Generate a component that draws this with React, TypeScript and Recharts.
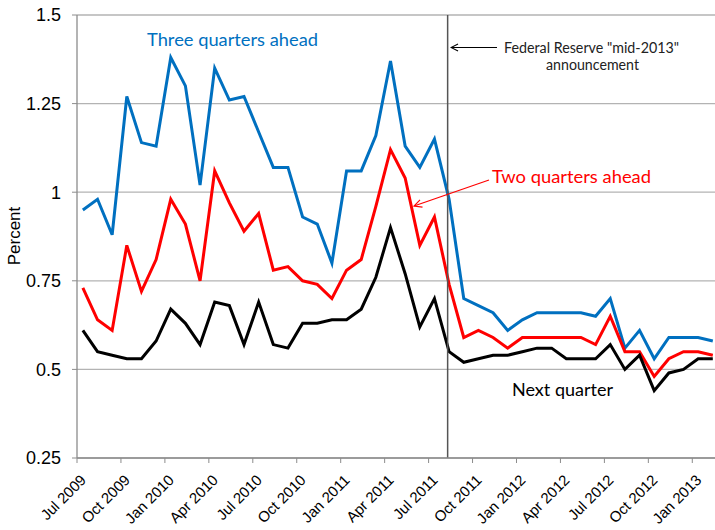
import { LineChart, Line, XAxis, YAxis, CartesianGrid, ReferenceLine } from "recharts";

// Quarter tick labels on the x axis (every third month)
const tickLabels = [
  "Jul 2009", "Oct 2009", "Jan 2010", "Apr 2010", "Jul 2010", "Oct 2010",
  "Jan 2011", "Apr 2011", "Jul 2011", "Oct 2011", "Jan 2012", "Apr 2012",
  "Jul 2012", "Oct 2012", "Jan 2013",
];

// Monthly survey values, Jul 2009 - Feb 2013 (percent)
const threeQuarters = [
  0.95, 0.98, 0.88, 1.27, 1.14, 1.13, 1.38, 1.3, 1.02, 1.35,
  1.26, 1.27, 1.17, 1.07, 1.07, 0.93, 0.91, 0.8, 1.06, 1.06,
  1.16, 1.37, 1.13, 1.07, 1.15, 0.98, 0.7, 0.68, 0.66, 0.61,
  0.64, 0.66, 0.66, 0.66, 0.66, 0.65, 0.7, 0.56, 0.61, 0.53,
  0.59, 0.59, 0.59, 0.58,
];
const twoQuarters = [
  0.73, 0.64, 0.61, 0.85, 0.72, 0.81, 0.98, 0.91, 0.75, 1.06,
  0.97, 0.89, 0.94, 0.78, 0.79, 0.75, 0.74, 0.7, 0.78, 0.81,
  0.96, 1.12, 1.04, 0.85, 0.93, 0.74, 0.59, 0.61, 0.59, 0.56,
  0.59, 0.59, 0.59, 0.59, 0.59, 0.57, 0.65, 0.55, 0.55, 0.48,
  0.53, 0.55, 0.55, 0.54,
];
const nextQuarter = [
  0.61, 0.55, 0.54, 0.53, 0.53, 0.58, 0.67, 0.63, 0.57, 0.69,
  0.68, 0.57, 0.69, 0.57, 0.56, 0.63, 0.63, 0.64, 0.64, 0.67,
  0.76, 0.9, 0.77, 0.62, 0.7, 0.55, 0.52, 0.53, 0.54, 0.54,
  0.55, 0.56, 0.56, 0.53, 0.53, 0.53, 0.57, 0.5, 0.54, 0.44,
  0.49, 0.5, 0.53, 0.53,
];

const yTicks = [0.25, 0.5, 0.75, 1, 1.25, 1.5];

// surveys land around the 10th-12th of each month
const SURVEY_OFFSET = 0.4;
// Aug 9, 2011 FOMC statement, in months since Jul 2009
const ANNOUNCEMENT = 25.3;

const BLUE = "#0070C0";
const RED = "#FF0000";
const GRID = "#B3B3B3";
const AXIS = "#8C8C8C";

const chartData = threeQuarters.map((v, i) => ({
  t: i + SURVEY_OFFSET,
  three: v,
  two: twoQuarters[i],
  next: nextQuarter[i],
}));

const tickPositions = tickLabels.map((_, k) => k * 3);

function MonthTick(props: any) {
  const { x, y, payload } = props;
  const label = tickLabels[Math.round(payload.value / 3)];
  const ax = x + 10;
  const ay = y + 16;
  return (
    <text
      x={ax}
      y={ay}
      textAnchor="end"
      fontSize={15}
      fontFamily="'Liberation Sans', Arial, sans-serif"
      fill="#000"
      transform={`rotate(-45, ${ax}, ${ay})`}
    >
      {label}
    </text>
  );
}

const labelFont = "Lato, 'Open Sans', sans-serif";

export default function App() {
  return (
    <div style={{ position: "absolute", left: 0, top: 0, width: 715, height: 530, background: "#fff" }}>
      <LineChart
        width={715}
        height={530}
        data={chartData}
        margin={{ top: 15, right: 0, left: 0, bottom: 0 }}
        style={{ fontFamily: "'Liberation Sans', Arial, sans-serif" }}
      >
        <CartesianGrid vertical={false} stroke={GRID} strokeWidth={1.3} />
        <XAxis
          dataKey="t"
          type="number"
          domain={[0, 43.55]}
          ticks={tickPositions}
          allowDataOverflow
          interval={0}
          height={72}
          tick={<MonthTick />}
          tickSize={5}
          stroke={AXIS}
          axisLine={{ stroke: AXIS, strokeWidth: 1.3 }}
          tickLine={{ stroke: AXIS }}
        />
        <YAxis
          type="number"
          domain={[0.25, 1.5]}
          ticks={yTicks}
          width={77}
          tickSize={5}
          tickMargin={11}
          axisLine={{ stroke: AXIS, strokeWidth: 1.3 }}
          tickLine={{ stroke: AXIS }}
          tick={{ fontSize: 18, fill: "#000", fontFamily: "'Liberation Sans', Arial, sans-serif" }}
        />
        <Line type="linear" dataKey="three" stroke={BLUE} strokeWidth={3} dot={false} isAnimationActive={false} />
        <Line type="linear" dataKey="two" stroke={RED} strokeWidth={3} dot={false} isAnimationActive={false} />
        <Line type="linear" dataKey="next" stroke="#000" strokeWidth={3} dot={false} isAnimationActive={false} />
        <ReferenceLine x={ANNOUNCEMENT} stroke="#555" strokeWidth={1.5} />
      </LineChart>

      <svg
        width={715}
        height={530}
        style={{ position: "absolute", left: 0, top: 0, pointerEvents: "none" }}
      >
        <defs>
          <marker id="openArrowBlack" viewBox="0 0 10 10" refX="9" refY="5" markerWidth="8" markerHeight="8" orient="auto-start-reverse">
            <path d="M1,1 L9,5 L1,9" fill="none" stroke="#000" strokeWidth={1.2} />
          </marker>
          <marker id="openArrowRed" viewBox="0 0 10 10" refX="9" refY="5" markerWidth="8" markerHeight="8" orient="auto-start-reverse">
            <path d="M1,1 L9,5 L1,9" fill="none" stroke={RED} strokeWidth={1.2} />
          </marker>
        </defs>

        <text
          x={14}
          y={236}
          transform="rotate(-90, 14, 236)"
          textAnchor="middle"
          dominantBaseline="central"
          fontSize={17}
          fontFamily="'Liberation Sans', Arial, sans-serif"
          fill="#000"
        >
          Percent
        </text>

        <text x={147} y={46} fontSize={18} fontFamily={labelFont} fill={BLUE} textLength={171} lengthAdjust="spacingAndGlyphs">
          Three quarters ahead
        </text>

        <text x={492} y={183} fontSize={18} fontFamily={labelFont} fill={RED} textLength={159} lengthAdjust="spacingAndGlyphs">
          Two quarters ahead
        </text>
        <line x1={489} y1={180} x2={414} y2={206} stroke={RED} strokeWidth={1.2} markerEnd="url(#openArrowRed)" />

        <text x={512} y={396} fontSize={18} fontFamily={labelFont} fill="#000" textLength={101} lengthAdjust="spacingAndGlyphs">
          Next quarter
        </text>

        <line x1={497} y1={47.5} x2={451} y2={47.5} stroke="#000" strokeWidth={1.1} markerEnd="url(#openArrowBlack)" />
        <text x={504} y={53} fontSize={14.5} fontFamily={labelFont} fill="#222" textLength={175} lengthAdjust="spacingAndGlyphs">
          Federal Reserve "mid-2013"
        </text>
        <text x={546} y={70} fontSize={14.5} fontFamily={labelFont} fill="#222" textLength={93} lengthAdjust="spacingAndGlyphs">
          announcement
        </text>
      </svg>
    </div>
  );
}
